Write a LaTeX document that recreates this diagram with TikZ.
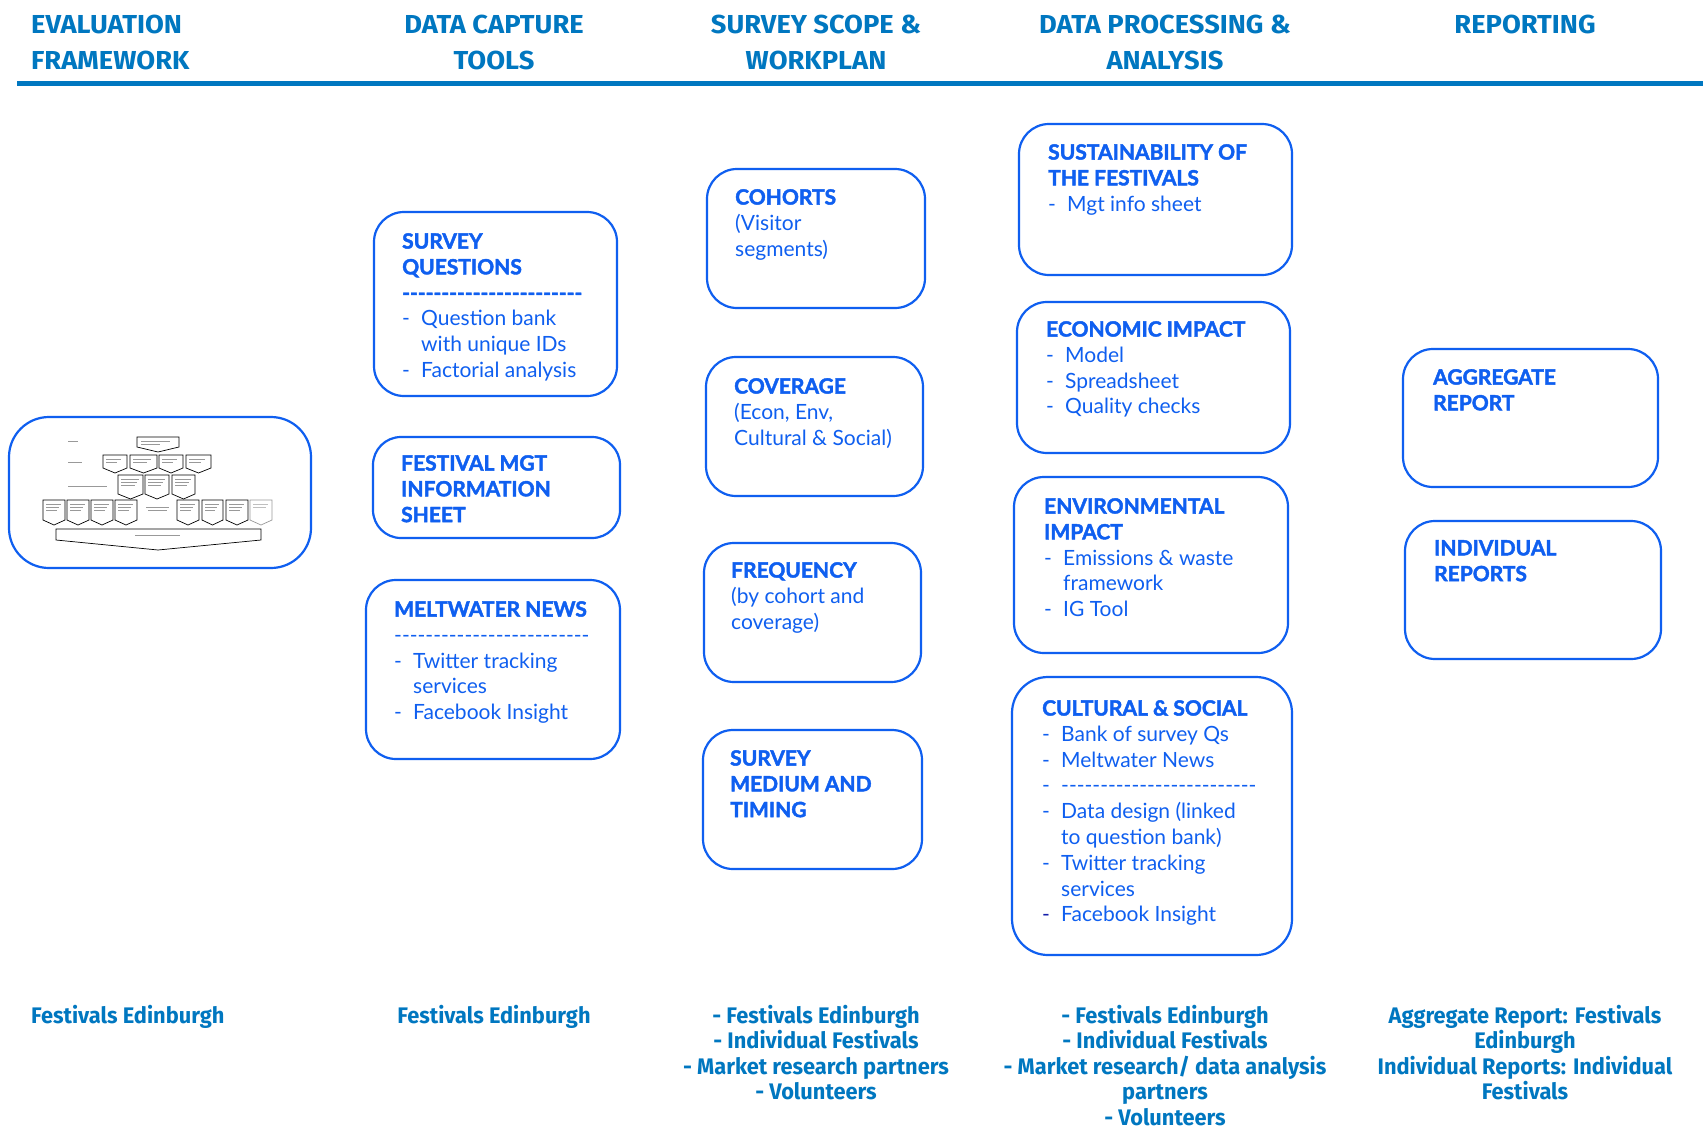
\documentclass[tikz,border=0pt]{standalone}
\usepackage{fontspec}
\setmainfont{Lato}[BoldFeatures={FakeBold=2}]
\newfontfamily\hdrfont[FakeStretch=1.05]{Fira Sans}
\newfontfamily\ftrfont[FakeStretch=0.97]{Fira Sans}
\definecolor{hdr}{RGB}{0,119,192}
\definecolor{bx}{RGB}{15,95,240}
\definecolor{navy}{RGB}{20,30,170}
\newcount\hcnt
\newcommand\hyrow[1]{\hcnt=0 \loop\ifnum\hcnt<#1 \mbox{-}\advance\hcnt by 1 \repeat}
\newcommand\myb{\makebox[19pt][l]{-}}
\newcommand\myc{\hspace*{19pt}}
\tikzset{
  box/.style={draw=bx, line width=2.2pt, rounded corners=30pt, inner sep=0pt},
  btxt/.style={anchor=north west, align=left, inner sep=0pt, text=bx, font=\fontsize{21}{25.8}\selectfont},
  hd/.style={text=hdr, inner sep=0pt, font=\hdrfont\bfseries\fontsize{26}{36}\selectfont},
  ft/.style={text=hdr, inner sep=0pt, font=\ftrfont\bfseries\fontsize{22.5}{25.5}\selectfont},
  thumb/.style={draw=black, line width=0.7pt, fill=white, line join=miter},
  scrib/.style={draw=black!40, line width=0.9pt}
}
\begin{document}
\begin{tikzpicture}[x=1pt,y=-1pt]
\fill[white] (0,0) rectangle (1703,1138);
\useasboundingbox (0,0) rectangle (1703,1138);

% header
\node[hd, anchor=north west, align=left] (h1) at (31,14.5) {EVALUATION\\FRAMEWORK};
\node[hd, anchor=north, align=center] (h2) at (494,14.5) {DATA CAPTURE\\TOOLS};
\node[hd, anchor=north, align=center] (h3) at (816,14.5) {SURVEY SCOPE \&\\WORKPLAN};
\node[hd, anchor=north, align=center] (h4) at (1165,14.5) {DATA PROCESSING \&\\ANALYSIS};
\node[hd, anchor=north, align=center] (h5) at (1525,14.5) {REPORTING};
\coordinate (rl) at (17,83.5);
\coordinate (rr) at (1703,83.5);
\draw[hdr, line width=5pt] (rl) -- (rr);

% boxes
\node[box, rounded corners=40pt, minimum width=302pt, minimum height=151pt] (ev) at (160,492.5) {};
\node[box, minimum width=243pt, minimum height=184pt] (sq) at (495.5,304) {};
\node[box, rounded corners=28pt, minimum width=247pt, minimum height=101pt] (fm) at (496.5,487.5) {};
\node[box, minimum width=254pt, minimum height=179pt] (mw) at (493,669.5) {};
\node[box, minimum width=218pt, minimum height=139pt] (co) at (816,238.5) {};
\node[box, minimum width=217pt, minimum height=139pt] (cv) at (814.5,426.5) {};
\node[box, minimum width=217pt, minimum height=139pt] (fr) at (812.5,612.5) {};
\node[box, minimum width=219pt, minimum height=139pt] (sm) at (812.5,799.5) {};
\node[box, minimum width=273pt, minimum height=151pt] (su) at (1155.5,199.5) {};
\node[box, minimum width=273pt, minimum height=151pt] (ec) at (1153.5,377.5) {};
\node[box, minimum width=274pt, minimum height=176pt] (en) at (1151,565) {};
\node[box, rounded corners=36pt, minimum width=280pt, minimum height=278pt] (cs) at (1152,816) {};
\node[box, minimum width=255pt, minimum height=138pt] (ag) at (1530.5,418) {};
\node[box, minimum width=256pt, minimum height=138pt] (ir) at (1533,590) {};

% box texts
\node[btxt] (tsq) at (402,233) {\textbf{SURVEY}\\\textbf{QUESTIONS}\\\textbf{\hyrow{23}}\\\myb Question bank\\\myc with unique IDs\\\myb Factorial analysis};
\node[btxt] (tfm) at (401,455) {\textbf{FESTIVAL MGT}\\\textbf{INFORMATION}\\\textbf{SHEET}};
\node[btxt] (tmw) at (394,601) {\textbf{MELTWATER NEWS}\\\hyrow{25}\\\myb Twitter tracking\\\myc services\\\myb Facebook Insight};
\node[btxt] (tco) at (735,189) {\textbf{COHORTS}\\(Visitor\\segments)};
\node[btxt] (tcv) at (734,378) {\textbf{COVERAGE}\\(Econ, Env,\\Cultural \& Social)};
\node[btxt] (tfr) at (731,562) {\textbf{FREQUENCY}\\(by cohort and\\coverage)};
\node[btxt] (tsm) at (730,750) {\textbf{SURVEY}\\\textbf{MEDIUM AND}\\\textbf{TIMING}};
\node[btxt] (tsu) at (1048,144) {\textbf{SUSTAINABILITY OF}\\\textbf{THE FESTIVALS}\\\myb Mgt info sheet};
\node[btxt] (tec) at (1046,321) {\textbf{ECONOMIC IMPACT}\\\myb Model\\\myb Spreadsheet\\\myb Quality checks};
\node[btxt] (ten) at (1044,498) {\textbf{ENVIRONMENTAL}\\\textbf{IMPACT}\\\myb Emissions \& waste\\\myc framework\\\myb IG Tool};
\node[btxt] (tcs) at (1042,700) {\textbf{CULTURAL \& SOCIAL}\\\myb Bank of survey Qs\\\myb Meltwater News\\\myb\hyrow{25}\\\myb Data design (linked\\\myc to question bank)\\\myb Twitter tracking\\\myc services\\\makebox[19pt][l]{\color{navy}-}Facebook Insight};
\node[btxt] (tag) at (1433,369) {\textbf{AGGREGATE}\\\textbf{REPORT}};
\node[btxt] (tir) at (1434,540) {\textbf{INDIVIDUAL}\\\textbf{REPORTS}};

% footer
\node[ft, anchor=north west, align=left] (f1) at (31,1005) {Festivals Edinburgh};
\node[ft, anchor=north, align=center] (f2) at (494,1005) {Festivals Edinburgh};
\node[ft, anchor=north, align=center] (f3) at (816,1005) {- Festivals Edinburgh\\- Individual Festivals\\- Market research partners\\- Volunteers};
\node[ft, anchor=north, align=center] (f4) at (1165,1005) {- Festivals Edinburgh\\- Individual Festivals\\- Market research/ data analysis\\partners\\- Volunteers};
\node[ft, anchor=north, align=center] (f5) at (1525,1005) {Aggregate Report: Festivals\\Edinburgh\\Individual Reports: Individual\\Festivals};

% thumbnail of the evaluation framework
\draw[scrib] (68,441) -- (78,441);
\draw[scrib] (68,462) -- (82,462);
\draw[scrib] (68,486) -- (107,486);
% inputs
\draw[thumb] (137,437) -- (179,437) -- (179,447) -- (158,452) -- (137,447) -- cycle;
\draw[scrib] (141,441) -- (170,441);
\draw[scrib] (141,444) -- (160,444);
% outputs
\foreach \a/\b in {103/127,130/157,159/183,186/211}{
  \draw[thumb] (\a,455) -- (\b,455) -- (\b,468) -- ({(\a+\b)/2},473) -- (\a,468) -- cycle;
  \draw[scrib] (\a+3,459) -- (\b-6,459);
  \draw[scrib] (\a+3,462) -- (\b-10,462);
}
% core outcomes
\foreach \a/\b in {118/143,145/169,172/195}{
  \draw[thumb] (\a,475) -- (\b,475) -- (\b,494) -- ({(\a+\b)/2},499) -- (\a,494) -- cycle;
  \draw[scrib] (\a+3,479) -- (\b-4,479);
  \draw[scrib] (\a+3,482) -- (\b-6,482);
  \draw[scrib] (\a+3,485) -- (\b-8,485);
}
% wider outcomes
\foreach \a/\b in {43/65,67/89,91/113,115/137,177/199,202/223,226/248}{
  \draw[thumb] (\a,500) -- (\b,500) -- (\b,520) -- ({(\a+\b)/2},525) -- (\a,520) -- cycle;
  \draw[scrib] (\a+3,504) -- (\b-4,504);
  \draw[scrib] (\a+3,507) -- (\b-6,507);
  \draw[scrib] (\a+3,510) -- (\b-8,510);
}
\draw[thumb, draw=black!40] (250,500) -- (272,500) -- (272,520) -- (261,525) -- (250,520) -- cycle;
\draw[scrib, draw=black!25] (253,504) -- (268,504);
\draw[scrib, draw=black!25] (253,507) -- (266,507);
\draw[scrib] (146,507) -- (169,507);
\draw[scrib] (148,510) -- (167,510);
% overall impact arrow
\draw[thumb] (56,529) -- (261,529) -- (261,540) -- (158,550) -- (56,540) -- cycle;
\draw[scrib] (135,535) -- (180,535);
\end{tikzpicture}
\end{document}
